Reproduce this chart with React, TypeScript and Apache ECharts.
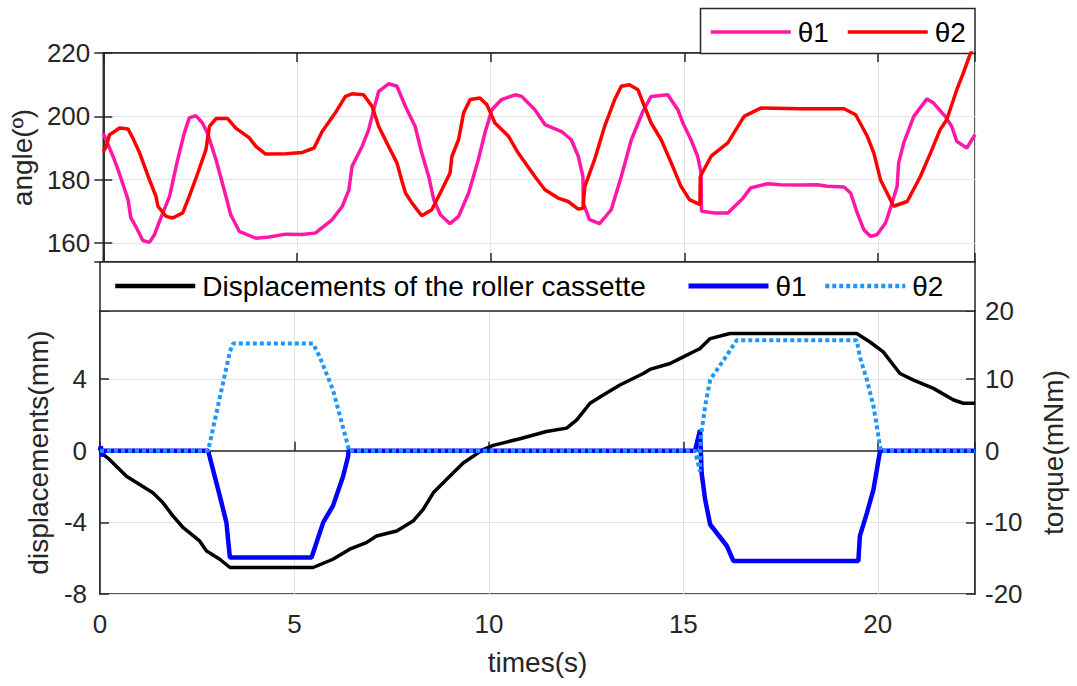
import React, { useEffect, useRef } from "react";
import * as echarts from "echarts";

// time (s) vs angle (deg) — upper panel
const angleTheta1: [number, number][] = [
  [0, 194.7], [0.25, 187.4], [0.38, 183.2], [0.64, 173.7], [0.71, 168], [0.84, 165.2], [1.02, 160.8],
  [1.19, 160.2], [1.32, 162.6], [1.45, 166.8], [1.71, 174.7], [1.92, 186.3], [2.09, 194.7], [2.22, 199.5],
  [2.39, 200.2], [2.56, 197.9], [2.69, 194.7], [2.91, 186.3], [3.12, 176.8], [3.29, 168.9], [3.51, 163.7],
  [3.94, 161.5], [4.28, 161.9], [4.71, 162.8], [5.14, 162.7], [5.48, 163.2], [5.91, 167.4], [6.17, 171.6],
  [6.34, 176.8], [6.42, 184.2], [6.68, 190.5], [6.85, 195.8], [6.98, 202.1], [7.11, 207.9], [7.37, 210.3],
  [7.58, 209.5], [7.8, 203.1], [8.05, 196.8], [8.22, 188.4], [8.4, 181], [8.53, 173.7], [8.7, 168.9],
  [8.95, 166.1], [9.17, 168.4], [9.43, 175.8], [9.68, 186.3], [9.85, 194.7], [10.03, 202.1], [10.28, 205.3],
  [10.63, 206.8], [10.8, 206.3], [11.14, 202.1], [11.4, 197.4], [11.83, 195.2], [12.08, 192.6], [12.26, 187.4],
  [12.38, 181], [12.39, 172.6], [12.55, 167.4], [12.81, 166.1], [13.11, 170.5], [13.37, 181], [13.63, 192.6],
  [13.93, 201.6], [14.14, 206.3], [14.57, 206.8], [14.83, 202.1], [14.96, 197.9], [15.17, 192.6], [15.34, 187.4],
  [15.43, 182.1], [15.44, 170], [15.78, 169.5], [16.12, 169.5], [16.5, 174], [16.71, 177.4], [17.14, 178.7],
  [17.49, 178.4], [18.0, 178.3], [18.43, 178.4], [18.69, 177.9], [19.12, 177.7], [19.29, 175.8], [19.46, 169.5],
  [19.63, 164.2], [19.8, 162.1], [19.97, 162.6], [20.19, 166.3], [20.36, 172.6], [20.49, 177.9], [20.53, 185.3],
  [20.66, 191.6], [20.92, 200], [21.26, 205.5], [21.43, 204.2], [21.73, 200], [21.9, 196.8], [22.03, 192.1],
  [22.29, 190], [22.5, 194.2],
];

const angleTheta2: [number, number][] = [
  [0, 188.9], [0.08, 190.5], [0.16, 194.2], [0.29, 195.2], [0.42, 196.3], [0.64, 196], [0.76, 193.2],
  [0.94, 188.4], [1.19, 180], [1.36, 174.7], [1.41, 171.6], [1.62, 168.4], [1.79, 167.9], [2.05, 169.5],
  [2.22, 174.7], [2.44, 182.1], [2.65, 189.5], [2.74, 196.8], [2.91, 199.3], [3.21, 199.3], [3.42, 196.3],
  [3.77, 193.2], [3.94, 190.5], [4.19, 188.1], [4.71, 188.2], [5.14, 188.6], [5.44, 190], [5.65, 195.2],
  [5.99, 201.1], [6.25, 206.3], [6.42, 207.1], [6.72, 206.8], [6.94, 203.1], [7.11, 196.8], [7.32, 191.6],
  [7.58, 185.3], [7.71, 179.5], [7.8, 175.8], [7.97, 172.6], [8.22, 168.6], [8.48, 170.5], [8.74, 176.8],
  [8.95, 182.1], [9.0, 187.4], [9.17, 192.6], [9.3, 201.1], [9.47, 205.3], [9.72, 205.8], [9.9, 203.7],
  [10.11, 197.9], [10.46, 193.7], [10.71, 188.4], [11.14, 181], [11.4, 176.8], [11.74, 174.2], [12.0, 173.1],
  [12.26, 170.7], [12.38, 171], [12.43, 177.9], [12.68, 186.3], [12.94, 196.8], [13.2, 205.3], [13.37, 209.5],
  [13.58, 210], [13.8, 208.4], [13.97, 203.1], [14.14, 197.9], [14.4, 192.6], [14.66, 185.3], [14.91, 177.9],
  [15.13, 173.7], [15.4, 172.1], [15.41, 181], [15.69, 187.4], [16.12, 191.6], [16.54, 200], [16.97, 202.6],
  [18.0, 202.4], [19.12, 202.4], [19.42, 200.5], [19.72, 193.7], [19.89, 188.4], [20.06, 180], [20.23, 175.8],
  [20.4, 171.6], [20.75, 173.1], [21.09, 181], [21.35, 188.4], [21.6, 195.8], [21.77, 198.9], [22.03, 208.4],
  [22.2, 213.7], [22.37, 219.5], [22.45, 221.5],
];

// time (s) vs displacement (mm) — lower panel, left axis
const displacement: [number, number][] = [
  [0, 0], [0.04, -0.13], [0.25, -0.5], [0.68, -1.43], [1.02, -1.89], [1.36, -2.35], [1.62, -2.91],
  [1.88, -3.65], [2.14, -4.3], [2.56, -5.04], [2.74, -5.6], [3.08, -6.06], [3.34, -6.52], [5.48, -6.52],
  [5.99, -6.06], [6.42, -5.5], [6.85, -5.13], [7.11, -4.76], [7.63, -4.48], [8.05, -3.93], [8.31, -3.28],
  [8.57, -2.35], [8.91, -1.61], [9.34, -0.69], [9.85, 0.06], [10.11, 0.3], [10.8, 0.67], [11.48, 1.07],
  [12.0, 1.26], [12.26, 1.72], [12.6, 2.65], [12.94, 3.11], [13.37, 3.67], [13.97, 4.31], [14.14, 4.54],
  [14.66, 4.87], [15.0, 5.24], [15.34, 5.61], [15.43, 5.7], [15.69, 6.26], [16.2, 6.54], [19.46, 6.54],
  [19.8, 6.07], [20.14, 5.52], [20.57, 4.31], [20.92, 3.94], [21.43, 3.48], [21.95, 2.83], [22.2, 2.65],
  [22.5, 2.65],
];

// time (s) vs torque (mNm) — lower panel, right axis
const torqueTheta1: [number, number][] = [
  [0, 0], [0.02, 0.6], [0.06, -0.8], [0.1, 0], [2.78, 0], [3.08, -6.3], [3.25, -10], [3.34, -14.9],
  [5.44, -14.9], [5.74, -10], [5.99, -7.7], [6.25, -3.6], [6.38, -0.8], [6.39, 0], [15.3, 0], [15.43, 2.9],
  [15.47, -3.1], [15.56, -6.8], [15.69, -10.3], [16.12, -13.3], [16.29, -15.4], [19.5, -15.4], [19.54, -11.9],
  [19.72, -8.7], [19.89, -5.4], [20.02, -1.25], [20.06, 0], [22.5, 0],
];

const torqueTheta2: [number, number][] = [
  [0, 0], [2.78, 0], [3.34, 13.8], [3.42, 14.95], [5.48, 14.95], [5.65, 13.1], [5.99, 8.5], [6.38, 0.6],
  [6.39, 0], [15.3, 0], [15.43, -2.9], [15.44, 1.5], [15.56, 6.2], [15.69, 9.9], [16.03, 12.6], [16.37, 15.4],
  [19.46, 15.4], [19.54, 13.1], [19.72, 9.9], [19.89, 6.2], [20.06, 0.6], [20.07, 0], [22.5, 0],
];

const FONT = "'Liberation Sans', Arial, 'Noto Sans', Helvetica, sans-serif";
const AX = "#262626";
const GRIDC = "#e3e3e3";

export default function App() {
  const ref = useRef<HTMLDivElement>(null);
  useEffect(() => {
    document.body.style.margin = "0";
    const chart = echarts.init(ref.current!, undefined, { renderer: "svg" });
    const tickStyle = { show: true, inside: true, length: 9, lineStyle: { color: AX, width: 1.5 } };
    const axLine = { show: true, lineStyle: { color: AX, width: 1.5 } };
    const split = { show: true, lineStyle: { color: GRIDC, width: 1 } };
    const lbl = { color: AX, fontSize: 26, fontFamily: FONT };
    const nameStyle = { color: AX, fontSize: 28, fontFamily: FONT };
    const legendBase = {
      orient: "horizontal",
      padding: 0,
      itemWidth: 80,
      itemHeight: 14,
      selectedMode: false,
      formatter: (n: string) => n.trim(),
      itemStyle: { opacity: 0 },
      textStyle: { color: "#000", fontSize: 28, fontFamily: FONT, padding: [0, 0, 0, 2] },
    };
    chart.setOption({
      animation: false,
      backgroundColor: "#fff",
      grid: [
        { left: 100, right: 102, top: 53, height: 209, show: true, borderColor: AX, borderWidth: 1.5, backgroundColor: "transparent" },
        { left: 100, right: 102, top: 311, height: 283, show: true, borderColor: AX, borderWidth: 1.5, backgroundColor: "transparent" },
      ],
      xAxis: [
        { type: "value", gridIndex: 0, position: "bottom", min: 0, max: 22.5, interval: 5, axisLine: axLine, axisTick: { ...tickStyle }, axisLabel: { show: false }, splitLine: split },
        { type: "value", gridIndex: 0, position: "top", min: 0, max: 22.5, interval: 5, axisLine: axLine, axisTick: { ...tickStyle }, axisLabel: { show: false }, splitLine: { show: false } },
        {
          type: "value", gridIndex: 1, position: "bottom", min: 0, max: 22.5, interval: 5, axisLine: axLine, axisTick: { ...tickStyle },
          axisLabel: { ...lbl, margin: 17, formatter: (v: number) => (v % 5 === 0 ? String(v) : "") },
          splitLine: split, name: "times(s)", nameLocation: "middle", nameGap: 54, nameTextStyle: nameStyle,
        },
      ],
      yAxis: [
        {
          type: "value", gridIndex: 0, position: "left", min: 154, max: 220, splitNumber: 3, axisLine: axLine, axisTick: { ...tickStyle },
          axisLabel: { ...lbl, margin: 13, formatter: (v: number) => (v % 20 === 0 ? String(v) : "") },
          splitLine: split, name: "angle(º)", nameLocation: "middle", nameGap: 62, nameTextStyle: nameStyle,
        },
        { type: "value", gridIndex: 0, position: "right", min: 154, max: 220, splitNumber: 3, axisLine: axLine, axisTick: { ...tickStyle }, axisLabel: { show: false }, splitLine: { show: false } },
        {
          type: "value", gridIndex: 1, position: "left", min: -8, max: 7.8, interval: 4, axisLine: axLine, axisTick: { ...tickStyle },
          axisLabel: { ...lbl, margin: 13, formatter: (v: number) => (v % 4 === 0 ? String(v) : "") },
          splitLine: split, name: "displacements(mm)", nameLocation: "middle", nameGap: 46, nameTextStyle: nameStyle,
        },
        {
          type: "value", gridIndex: 1, position: "right", min: -20, max: 19.5, interval: 10, axisLine: axLine, axisTick: { ...tickStyle },
          axisLabel: { ...lbl, margin: 10, formatter: (v: number) => (v > 19 ? "20" : v % 10 === 0 ? String(v) : "") },
          splitLine: { show: false }, name: "torque(mNm)", nameLocation: "middle", nameGap: 64, nameTextStyle: nameStyle,
        },
      ],
      legend: [
        { ...legendBase, data: ["θ1"], left: 709, top: 18, lineStyle: { width: 3.5 } },
        { ...legendBase, data: ["θ2"], left: 846, top: 18, lineStyle: { width: 3.5 } },
        { ...legendBase, data: ["Displacements of the roller cassette"], left: 113, top: 272, lineStyle: { width: 4.5 } },
        { ...legendBase, data: ["θ1 "], left: 686, top: 272, lineStyle: { width: 5 } },
        { ...legendBase, data: ["θ2 "], left: 823, top: 272, lineStyle: { width: 4.5 } },
      ],
      graphic: [
        { type: "rect", z: 1, shape: { x: 700.5, y: 8.5, width: 274.5, height: 45 }, style: { fill: "#fff", stroke: AX, lineWidth: 1.5 } },
        { type: "rect", z: 1, shape: { x: 100, y: 262, width: 875, height: 49 }, style: { fill: "#fff", stroke: AX, lineWidth: 1.5 } },
      ],
      series: [
        { name: "θ1", type: "line", xAxisIndex: 0, yAxisIndex: 0, data: angleTheta1, symbol: "none", lineStyle: { color: "#ff17a6", width: 3.5 }, itemStyle: { color: "#ff17a6" } },
        { name: "θ2", type: "line", xAxisIndex: 0, yAxisIndex: 0, data: angleTheta2, symbol: "none", lineStyle: { color: "#ff0000", width: 3.5 }, itemStyle: { color: "#ff0000" } },
        { name: "Displacements of the roller cassette", type: "line", xAxisIndex: 2, yAxisIndex: 2, data: displacement, symbol: "none", lineStyle: { color: "#000", width: 3.5 }, itemStyle: { color: "#000" } },
        { name: "θ1 ", type: "line", xAxisIndex: 2, yAxisIndex: 3, data: torqueTheta1, symbol: "none", lineStyle: { color: "#0000ff", width: 4.5 }, itemStyle: { color: "#0000ff" } },
        { name: "θ2 ", type: "line", xAxisIndex: 2, yAxisIndex: 3, data: torqueTheta2, symbol: "none", lineStyle: { color: "#1e96ff", width: 4, type: [4, 3] }, itemStyle: { color: "#1e96ff" } },
      ],
    });
    return () => chart.dispose();
  }, []);
  return <div ref={ref} style={{ width: 1077, height: 686 }} />;
}
